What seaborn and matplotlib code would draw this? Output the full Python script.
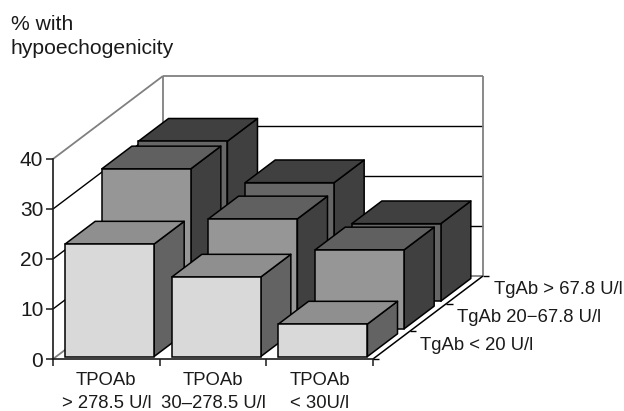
import pandas as pd
import seaborn as sns
import matplotlib.pyplot as plt
from matplotlib.patches import Polygon

tpo_labels = ['TPOAb\n> 278.5 U/l', 'TPOAb\n30–278.5 U/l', 'TPOAb\n< 30U/l']
tg_labels = ['TgAb < 20 U/l', 'TgAb 20−67.8 U/l', 'TgAb > 67.8 U/l']
tg_low = [22.5, 15.9, 6.5]
tg_mid = [32.0, 22.0, 15.8]
tg_high = [32.0, 23.7, 15.5]

y_ticks = [0, 10, 20, 30, 40]

# colours per row: front, top, side
row_colors = [('#d9d9d9', '#8f8f8f', '#636363'),
              ('#969696', '#606060', '#404040'),
              ('#666666', '#404040', '#404040')]

# oblique depth of the whole floor, in data units
DX = 1.031
DY = 16.6
BAR_W = 0.834
ROW_GAP = 0.09  # share of a row left in front of and behind a bar
WALL = '#808080'
TEXT = '#1a1a1a'

sns.set_style('white')
plt.rcParams['font.family'] = ['Liberation Sans', 'DejaVu Sans']
plt.rcParams['font.size'] = 13

fig = plt.figure(figsize=(6.24, 4.11), dpi=100)
ax = fig.add_axes([53 / 624, (411 - 359) / 411, 320 / 624, 200 / 411])
ax.patch.set_alpha(0)

df = pd.DataFrame({
    'tpo': tpo_labels * 3,
    'tg': [tg_labels[0]] * 3 + [tg_labels[1]] * 3 + [tg_labels[2]] * 3,
    'pct': tg_low + tg_mid + tg_high,
})


def floor(depth):
    return DX * depth / 3, DY * depth / 3


def line(xs, ys, color='black', lw=0.9, z=1):
    ax.plot(xs, ys, color=color, lw=lw, zorder=z, clip_on=False, solid_capstyle='butt')


# walls and grid
x0, x1 = -0.5, 2.5
for v in y_ticks:
    c = 'black' if 0 < v < 40 else WALL
    line([x0, x0 + DX], [v, v + DY], c, 1.3 if c == WALL else 1.0)
    line([x0 + DX, x1 + DX], [v + DY, v + DY], c, 1.3 if c == WALL else 1.0)
line([x0 + DX, x0 + DX], [DY, 40 + DY], WALL, 1.3)
line([x1 + DX, x1 + DX], [DY, 40 + DY], WALL, 1.3)

# floor edge on the right, with its ticks
line([x1, x1 + DX], [0, DY], 'black', 1.1, 2)
for d in range(4):
    fx, fy = floor(d)
    line([x1 + fx, x1 + fx + 0.06], [fy, fy], 'black', 1.0, 2)

# bars, back row first, each row is one seaborn barplot pushed back along the depth
z = 3
for r in [2, 1, 0]:
    front, top, side = row_colors[r]
    sub = df[df['tg'] == tg_labels[r]]
    n_before = len(ax.patches)
    sns.barplot(data=sub, x='tpo', y='pct', order=tpo_labels, color=front, saturation=1,
                width=BAR_W, edgecolor='black', linewidth=1.1, ax=ax)
    ox, oy = floor(r + ROW_GAP)
    bx, by = floor(1 - 2 * ROW_GAP)
    for bar in ax.patches[n_before:]:
        bar.set_x(bar.get_x() + ox)
        bar.set_y(oy)
        bar.set_clip_on(False)
        xa, w, h = bar.get_x(), bar.get_width(), bar.get_height()
        xb = xa + w
        yt = oy + h
        ax.add_patch(Polygon([(xb, oy), (xb, yt), (xb + bx, yt + by), (xb + bx, oy + by)],
                             facecolor=side, edgecolor='black', lw=1.1, zorder=z,
                             clip_on=False, joinstyle='round'))
        ax.add_patch(Polygon([(xa, yt), (xb, yt), (xb + bx, yt + by), (xa + bx, yt + by)],
                             facecolor=top, edgecolor='black', lw=1.1, zorder=z,
                             clip_on=False, joinstyle='round'))
        bar.set_zorder(z + 0.5)
        z += 1

ax.set_xlim(x0, x1)
ax.set_ylim(0, 40)
ax.set_xlabel('')
ax.set_ylabel('')
ax.set_yticks(y_ticks)
ax.set_xticks([-0.5, 0.5, 1.5, 2.5], minor=True)
ax.tick_params(axis='x', which='minor', bottom=True, length=5, width=1.1, color=TEXT)
ax.tick_params(axis='x', which='major', bottom=False, length=0, pad=9, labelsize=13.3, colors=TEXT)
ax.tick_params(axis='y', left=True, length=5, width=1.1, pad=2, labelsize=15, colors=TEXT)
for label in ax.get_xticklabels():
    label.set_linespacing(1.48)

sns.despine(ax=ax)
for s in ['left', 'bottom']:
    ax.spines[s].set_color(TEXT)
    ax.spines[s].set_linewidth(1.2)
    ax.spines[s].set_zorder(100)

# depth labels next to the floor edge
for r, name in enumerate(tg_labels):
    fx, fy = floor(r + 0.5)
    ax.annotate(name, (x1 + fx, fy), xytext=(21, 0), textcoords='offset points',
                va='center', ha='left', fontsize=13.3, color=TEXT, annotation_clip=False)

fig.text(11 / 624, 1 - 24 / 411, '% with', fontsize=15.2, va='center', color=TEXT)
fig.text(11 / 624, 1 - 49 / 411, 'hypoechogenicity', fontsize=15.2, va='center', color=TEXT)

fig.savefig('out.png', dpi=100)
